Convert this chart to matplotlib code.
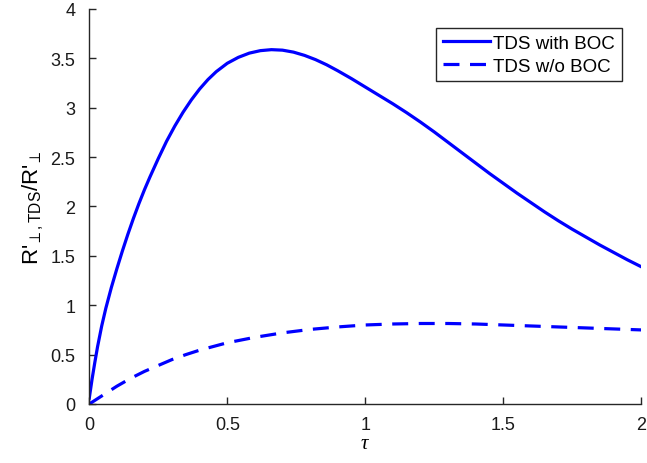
import matplotlib
matplotlib.use('Agg')
import matplotlib.pyplot as plt

plt.rcParams['font.family'] = ['Liberation Sans', 'DejaVu Sans']
plt.rcParams['mathtext.fontset'] = 'custom'
plt.rcParams['mathtext.rm'] = 'Liberation Sans'
plt.rcParams['mathtext.it'] = 'Liberation Serif:italic'

# values
tau_with = [0, 0.01, 0.02, 0.03, 0.045, 0.06, 0.08, 0.10, 0.12, 0.14, 0.16, 0.18,
            0.20, 0.22, 0.25, 0.28, 0.31, 0.34, 0.37, 0.40, 0.43, 0.46, 0.50,
            0.54, 0.58, 0.62, 0.66, 0.70, 0.74, 0.78, 0.82, 0.86, 0.90, 0.95,
            1.00, 1.05, 1.10, 1.15, 1.20, 1.25, 1.30, 1.35, 1.40, 1.45, 1.50,
            1.55, 1.60, 1.65, 1.70, 1.75, 1.80, 1.85, 1.90, 1.95, 2.00]
r_with = [0.06, 0.25, 0.42, 0.58, 0.79, 0.97, 1.18, 1.37, 1.55, 1.72, 1.88, 2.03,
          2.17, 2.30, 2.485, 2.66, 2.815, 2.955, 3.08, 3.19, 3.285, 3.365, 3.45,
          3.51, 3.553, 3.578, 3.588, 3.583, 3.563, 3.53, 3.487, 3.435, 3.375, 3.295,
          3.21, 3.125, 3.04, 2.95, 2.855, 2.755, 2.65, 2.545, 2.44, 2.335, 2.235,
          2.135, 2.04, 1.945, 1.855, 1.77, 1.69, 1.61, 1.535, 1.46, 1.39]

tau_wo = [0, 0.025, 0.05, 0.075, 0.10, 0.15, 0.20, 0.25, 0.30, 0.35, 0.40, 0.50,
          0.60, 0.70, 0.80, 0.90, 1.00, 1.10, 1.20, 1.30, 1.40, 1.50, 1.60,
          1.70, 1.80, 1.90, 2.00]
r_wo = [0, 0.045, 0.09, 0.135, 0.18, 0.26, 0.33, 0.39, 0.45, 0.50, 0.545, 0.62,
        0.675, 0.72, 0.755, 0.78, 0.80, 0.81, 0.815, 0.815, 0.81, 0.80, 0.79,
        0.78, 0.77, 0.76, 0.75]

xticks = [0, 0.5, 1, 1.5, 2]
xticklabels = ['0', '0.5', '1', '1.5', '2']
yticks = [0, 0.5, 1, 1.5, 2, 2.5, 3, 3.5, 4]
yticklabels = ['0', '0.5', '1', '1.5', '2', '2.5', '3', '3.5', '4']

fig = plt.figure(figsize=(6.47, 4.64), dpi=100)
ax = fig.add_axes([0.1380, 0.1272, 0.853, 0.8513])

ax.plot(tau_with, r_with, color=(0, 0, 1), lw=2.3, label='TDS with BOC')
ax.plot(tau_wo, r_wo, color=(0, 0, 1), lw=2.3, dashes=(5, 3.3), label='TDS w/o BOC')

ax.set_xlim(0, 2)
ax.set_ylim(0, 4)
ax.set_xticks(xticks)
ax.set_xticklabels(xticklabels)
ax.set_yticks(yticks)
ax.set_yticklabels(yticklabels)

for s in ['top', 'right']:
    ax.spines[s].set_visible(False)
for s in ['left', 'bottom']:
    ax.spines[s].set_color('#262626')
    ax.spines[s].set_linewidth(1.0)
ax.tick_params(direction='in', length=5, width=1, colors='#262626',
               labelsize=13, labelcolor='#1a1a1a')
ax.tick_params(axis='x', pad=9)
ax.tick_params(axis='y', pad=10)

ax.set_xlabel(r'$\mathit{\tau}$', fontsize=15, labelpad=0)
ax.set_ylabel("R'$_{\\perp,\\mathrm{TDS}}$/R'$_{\\perp}$", fontsize=16, labelpad=4)

leg = ax.legend(loc='upper right', bbox_to_anchor=(0.9645, 0.951), fontsize=13.5,
                fancybox=False, framealpha=1, edgecolor='#262626',
                handlelength=2.55, handletextpad=0.15, borderpad=0.35,
                labelspacing=0.3, borderaxespad=0)
leg.get_frame().set_linewidth(1.0)

fig.savefig('out.png', dpi=100)
